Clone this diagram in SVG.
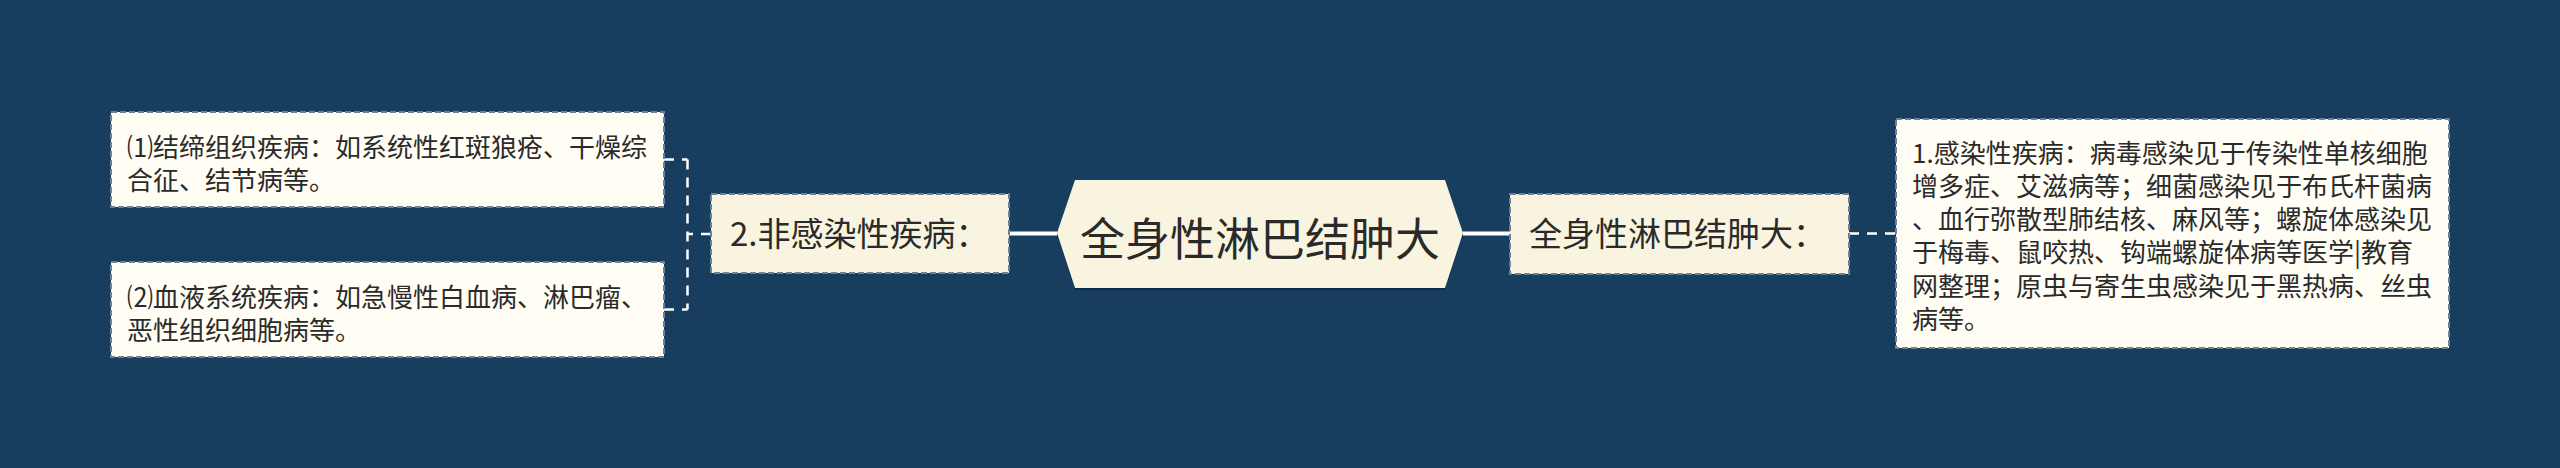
<svg xmlns="http://www.w3.org/2000/svg" width="2560" height="468" viewBox="0 0 2560 468">
<style>
  .leaf { fill: #fffdf4; stroke: #6f8090; stroke-width: 2; stroke-dasharray: 6 3; }
  .main { fill: #f9f4df; stroke: #6f8090; stroke-width: 2; stroke-dasharray: 6 3; }
  .t { font-family: "Noto Sans CJK SC", "Noto Sans", sans-serif; fill: #2a2a2a; }
  .s { font-size: 26px; }
  .m { font-size: 33px; }
  .c { font-size: 45px; }
  .dash { fill: none; stroke: #ffffff; stroke-width: 2.5; stroke-dasharray: 10 8; }
  .solid { fill: none; stroke: #ffffff; stroke-width: 4; }
</style>
<rect x="0" y="0" width="2560" height="468" fill="#173e5f"/>
<g id="connectors">
  <line class="solid" x1="1009" y1="233.5" x2="1057" y2="233.5"/>
  <line class="solid" x1="1463" y1="233.5" x2="1510" y2="233.5"/>
  <path class="dash" d="M711 234 H687.5 M687.5 159.5 V309.5 M664 159.5 H687.5 M664 309.5 H687.5"/>
  <line class="dash" x1="1849" y1="233.5" x2="1896" y2="233.5"/>
</g>
<g id="center">
  <polygon points="1057,235 1075,182 1445,182 1463,235 1445,290 1075,290" fill="#0f2b44"/>
  <polygon points="1057,233 1075,180 1445,180 1463,233 1445,288 1075,288" fill="#f9f4df"/>
  <text class="t c" x="1260" y="256" text-anchor="middle">全身性淋巴结肿大</text>
</g>
<g id="node-noninfectious">
  <rect class="main" x="711" y="194" width="298" height="79"/>
  <text class="t m" x="730" y="245.5">2.非感染性疾病：</text>
</g>
<g id="leaf-connective">
  <rect class="leaf" x="111" y="112" width="553" height="95"/>
  <text class="t s" x="127" y="156.5">⑴结缔组织疾病：如系统性红斑狼疮、干燥综</text>
  <text class="t s" x="127" y="189.5">合征、结节病等。</text>
</g>
<g id="leaf-blood">
  <rect class="leaf" x="111" y="262" width="553" height="95"/>
  <text class="t s" x="127" y="306.5">⑵血液系统疾病：如急慢性白血病、淋巴瘤、</text>
  <text class="t s" x="127" y="339.5">恶性组织细胞病等。</text>
</g>
<g id="node-general">
  <rect class="main" x="1510" y="194" width="339" height="80"/>
  <text class="t m" x="1529" y="245.5">全身性淋巴结肿大：</text>
</g>
<g id="leaf-infectious">
  <rect class="leaf" x="1896" y="119" width="553" height="229"/>
  <text class="t s" x="1912" y="162.5">1.感染性疾病：病毒感染见于传染性单核细胞</text>
  <text class="t s" x="1912" y="195.8">增多症、艾滋病等；细菌感染见于布氏杆菌病</text>
  <text class="t s" x="1912" y="229.1">、血行弥散型肺结核、麻风等；螺旋体感染见</text>
  <text class="t s" x="1912" y="262.4">于梅毒、鼠咬热、钩端螺旋体病等医学|教育</text>
  <text class="t s" x="1912" y="295.7">网整理；原虫与寄生虫感染见于黑热病、丝虫</text>
  <text class="t s" x="1912" y="329">病等。</text>
</g>
</svg>
